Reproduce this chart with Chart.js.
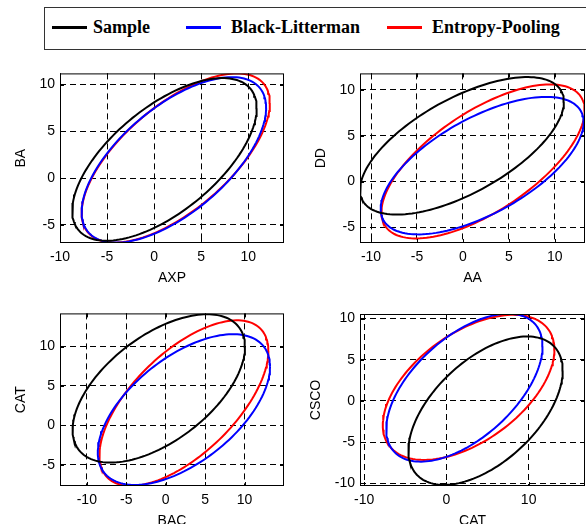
<!DOCTYPE html>
<html>
<head>
<meta charset="utf-8">
<script src="https://cdn.jsdelivr.net/npm/chart.js@4.4.0/dist/chart.umd.min.js"></script>
<style>
    html, body { margin: 0; padding: 0; width: 586px; height: 524px; overflow: hidden; background: #fff; }
    canvas { position: absolute; }
    #legendBox { position: absolute; left: 44px; top: 7px; width: 560px; height: 41px; border: 1px solid #333; border-right: none; }
    .key-line { position: absolute; height: 3px; top: 26px; width: 35px; }
    .key-text { position: absolute; top: 17px; line-height: 20px; font: bold 18px "Liberation Serif", "Times New Roman", serif; color: #000; white-space: nowrap; }
</style>
</head>
<body>
<div id="legendBox"></div>

<script>
// series and panel names
const seriesNames = ['Sample', 'Black-Litterman', 'Entropy-Pooling'];
const xLabels = ['AXP', 'AA', 'BAC', 'CAT'];
const yLabels = ['BA', 'DD', 'CAT', 'CSCO'];

// axis limits and ticks per panel
const xLimits = [[-10, 13.8], [-11.2, 13.3], [-13.4, 15.0], [-10.5, 16.85]];
const yLimits = [[-6.94, 11.2], [-6.7, 11.8], [-7.7, 14.2], [-10.34, 10.55]];
const xTicks = [[-10, -5, 0, 5, 10], [-10, -5, 0, 5, 10], [-10, -5, 0, 5, 10], [-10, 0, 10]];
const yTicks = [[-5, 0, 5, 10], [-5, 0, 5, 10], [-5, 0, 5, 10], [-10, -5, 0, 5, 10]];

// ellipse parameters per panel: [Sample, Black-Litterman, Entropy-Pooling]
const centerX = [[1.1, 2.1, 2.3], [-0.1, 2.1, 2.2], [-0.875, 2.31, 2.31], [4.76, 2.19, 2.7]];
const centerY = [[2.0, 1.95, 2.15], [3.9, 1.74, 2.2], [4.68, 2.0, 2.82], [-1.19, 1.6, 1.64]];
const halfWidth = [[9.8, 9.8, 10.0], [11.1, 11.05, 11.07], [10.93, 10.92, 10.71], [9.38, 9.5, 10.43]];
const halfHeight = [[8.7, 8.85, 9.05], [7.5, 7.5, 8.4], [9.41, 9.56, 10.5], [9.01, 8.98, 8.81]];
const correlation = [[0.63, 0.63, 0.65], [0.64, 0.63, 0.66], [0.56, 0.57, 0.63], [0.54, 0.56, 0.52]];

// styles and layout
const seriesColors = ['#000000', '#0000ff', '#ff0000'];
const keyLineLeft = [52, 186, 387];
const keyTextLeft = [93, 231, 432];
const panels = [
    { left: 0,   top: 60,  width: 293, height: 240, plot: [60, 71, 284, 243],  yTitleGap: 39 },
    { left: 293, top: 60,  width: 293, height: 240, plot: [360, 71, 585, 243], yTitleGap: 39 },
    { left: 0,   top: 300, width: 293, height: 240, plot: [60, 313, 284, 486], yTitleGap: 39 },
    { left: 293, top: 300, width: 293, height: 240, plot: [360, 314, 585, 486], yTitleGap: 44 }
];
const axisFont = { family: '"Liberation Sans", Arial, sans-serif', size: 14 };
const lineHeight = 14 * 1.2;

// Build the legend
seriesNames.forEach((name, s) => {
    const line = document.createElement('div');
    line.className = 'key-line';
    line.style.left = keyLineLeft[s] + 'px';
    line.style.background = seriesColors[s];
    document.body.appendChild(line);

    const text = document.createElement('div');
    text.className = 'key-text';
    text.style.left = keyTextLeft[s] + 'px';
    text.textContent = name;
    document.body.appendChild(text);
});

// Points along the covariance ellipse of one series
function ellipsePoints(p, s) {
    const pts = [];
    const r = correlation[p][s];
    const steps = 160;
    for (let i = 0; i <= steps; i++) {
        const t = 2 * Math.PI * i / steps;
        pts.push({
            x: centerX[p][s] + halfWidth[p][s] * Math.cos(t),
            y: centerY[p][s] + halfHeight[p][s] * (r * Math.cos(t) + Math.sqrt(1 - r * r) * Math.sin(t))
        });
    }
    return pts;
}

// Box around the plot area with inward tick marks
const framePlugin = {
    id: 'frame',
    afterDraw(chart) {
        const { ctx, chartArea: a, scales } = chart;
        ctx.save();
        ctx.strokeStyle = '#000';
        ctx.lineWidth = 1;
        ctx.beginPath();
        scales.x.ticks.forEach(t => {
            const px = Math.round(scales.x.getPixelForValue(t.value)) + 0.5;
            ctx.moveTo(px, a.bottom); ctx.lineTo(px, a.bottom - 4);
            ctx.moveTo(px, a.top); ctx.lineTo(px, a.top + 4);
        });
        scales.y.ticks.forEach(t => {
            const py = Math.round(scales.y.getPixelForValue(t.value)) + 0.5;
            ctx.moveTo(a.left, py); ctx.lineTo(a.left + 4, py);
            ctx.moveTo(a.right, py); ctx.lineTo(a.right - 4, py);
        });
        ctx.stroke();
        ctx.strokeRect(a.left + 0.5, a.top + 0.5, a.right - a.left - 1, a.bottom - a.top - 1);
        ctx.restore();
    }
};

// Create one panel
function createPanel(p) {
    const box = panels[p];
    const canvas = document.createElement('canvas');
    canvas.width = box.width;
    canvas.height = box.height;
    canvas.style.left = box.left + 'px';
    canvas.style.top = box.top + 'px';
    document.body.appendChild(canvas);

    const [plotLeft, plotTop, plotRight, plotBottom] = box.plot;
    const canvasBottom = box.top + box.height;

    new Chart(canvas.getContext('2d'), {
        type: 'scatter',
        data: {
            datasets: seriesNames.map((name, s) => ({
                label: name,
                data: ellipsePoints(p, s),
                showLine: true,
                borderColor: seriesColors[s],
                backgroundColor: seriesColors[s],
                borderWidth: 2,
                pointRadius: 0,
                fill: false,
                tension: 0
            }))
        },
        options: {
            responsive: false,
            animation: false,
            events: [],
            layout: {
                padding: { top: plotTop - box.top, right: box.left + box.width - plotRight, left: 0, bottom: 0 }
            },
            plugins: {
                legend: { display: false },
                tooltip: { enabled: false }
            },
            scales: {
                x: {
                    type: 'linear',
                    min: xLimits[p][0],
                    max: xLimits[p][1],
                    afterBuildTicks: sc => { sc.ticks = xTicks[p].map(v => ({ value: v })); },
                    afterFit: sc => { sc.height = canvasBottom - plotBottom; },
                    ticks: { padding: 6, color: '#000', font: axisFont, maxRotation: 0 },
                    grid: { color: '#000', lineWidth: 1, drawTicks: false },
                    border: { display: false, dash: [6, 4] },
                    title: {
                        display: true,
                        text: xLabels[p],
                        color: '#000',
                        font: axisFont,
                        padding: { top: 0, bottom: canvasBottom - (plotBottom + 35) - lineHeight / 2 }
                    }
                },
                y: {
                    type: 'linear',
                    min: yLimits[p][0],
                    max: yLimits[p][1],
                    afterBuildTicks: sc => { sc.ticks = yTicks[p].map(v => ({ value: v })); },
                    afterFit: sc => { sc.width = plotLeft - box.left; },
                    ticks: { padding: 5, color: '#000', font: axisFont },
                    grid: { color: '#000', lineWidth: 1, drawTicks: false },
                    border: { display: false, dash: [6, 4] },
                    title: {
                        display: true,
                        text: yLabels[p],
                        color: '#000',
                        font: axisFont,
                        padding: { top: plotLeft - box.yTitleGap - box.left - lineHeight / 2, bottom: 0 }
                    }
                }
            }
        },
        plugins: [framePlugin]
    });
}

panels.forEach((box, p) => createPanel(p));
</script>
</body>
</html>
